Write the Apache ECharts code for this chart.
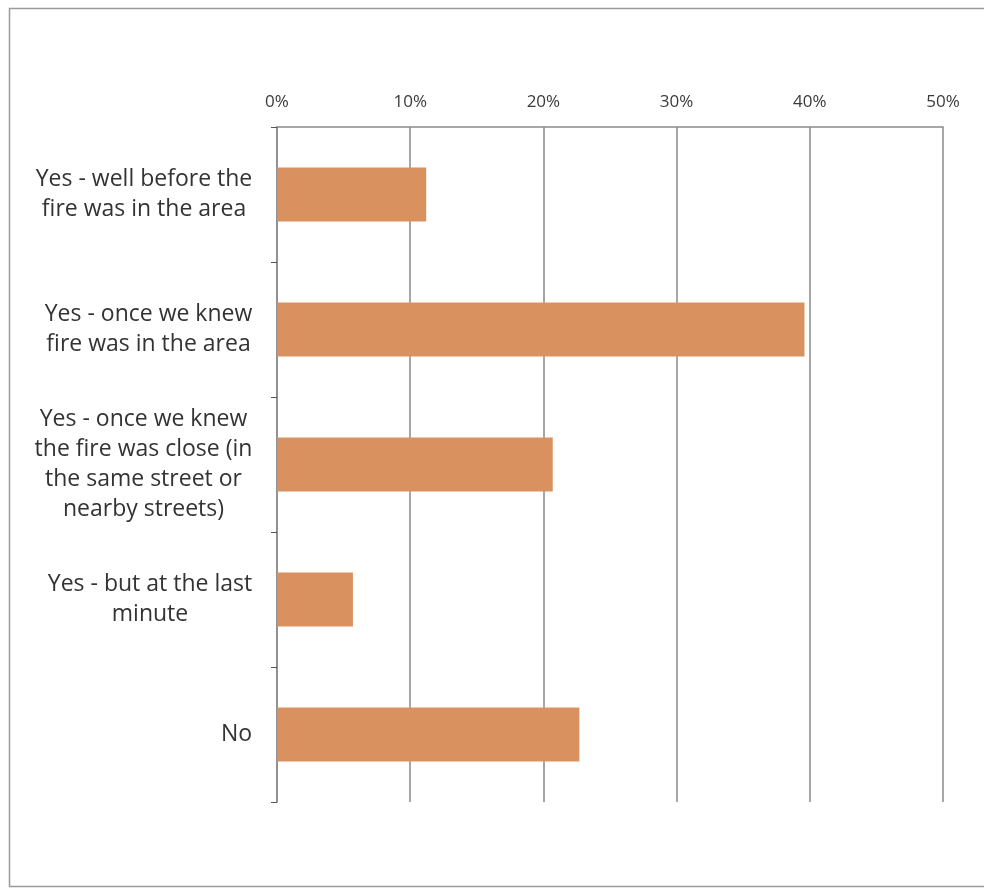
<!DOCTYPE html>
<html><head><meta charset="utf-8">
<script src="https://cdn.jsdelivr.net/npm/echarts@6/dist/echarts.min.js"></script>
<style>html,body{margin:0;padding:0;background:#fff}#c{width:984px;height:889px}</style>
</head><body><div id="c"></div>
<script>
const categories = [
  "Yes - well before the\nfire was in the area",
  "Yes - once we knew\nfire was in the area",
  "Yes - once we knew\nthe fire was close (in\nthe same street or\nnearby streets)",
  "Yes - but at the last\nminute",
  "No"
];
const values = [11.2, 39.6, 20.7, 5.7, 22.7];
const xTicks = [0, 10, 20, 30, 40, 50];

const LABEL_FONT = 'Open Sans';
const LABEL_SIZE = 23;
const ctx = document.createElement('canvas').getContext('2d');
ctx.font = LABEL_SIZE + 'px "' + LABEL_FONT + '"';
const rich = {};
categories.forEach((c, i) => {
  const w = Math.max(...c.split('\n').map(s => ctx.measureText(s).width));
  rich['l' + i] = {width: Math.ceil(w) + 1, align: 'center', fontFamily: LABEL_FONT, fontSize: LABEL_SIZE, color: '#333', lineHeight: 30};
});

const chart = echarts.init(document.getElementById('c'), null, {renderer: 'canvas'});
chart.setOption({
  animation: false,
  backgroundColor: '#fff',
  graphic: [{
    type: 'rect', left: 7, top: 6,
    shape: {width: 990, height: 878},
    style: {fill: 'none', stroke: '#9a9a9a', lineWidth: 1.5}
  }],
  grid: {left: 277, right: 41, top: 127, bottom: 87},
  xAxis: {
    type: 'value', position: 'top', min: xTicks[0], max: xTicks[xTicks.length - 1], interval: 10,
    axisLine: {show: true, lineStyle: {color: '#8a8a8a', width: 1.5}},
    axisTick: {show: false},
    axisLabel: {formatter: v => v + '%', fontFamily: 'Open Sans', fontSize: 17, color: '#3a3a3a', margin: 16},
    splitLine: {show: true, lineStyle: {color: '#8a8a8a', width: 1.5}}
  },
  yAxis: {
    type: 'category', inverse: true, data: categories,
    axisLine: {show: true, lineStyle: {color: '#8a8a8a', width: 1.5}},
    axisTick: {show: true, length: 6, lineStyle: {color: '#555'}},
    axisLabel: {
      margin: 24, align: 'right',
      formatter: (v, i) => v.split('\n').map(s => '{l' + i + '|' + s + '}').join('\n'),
      rich: rich
    }
  },
  series: [{
    type: 'bar', data: values, barWidth: '40%',
    itemStyle: {color: '#D8915F'}
  }]
});
</script></body></html>
